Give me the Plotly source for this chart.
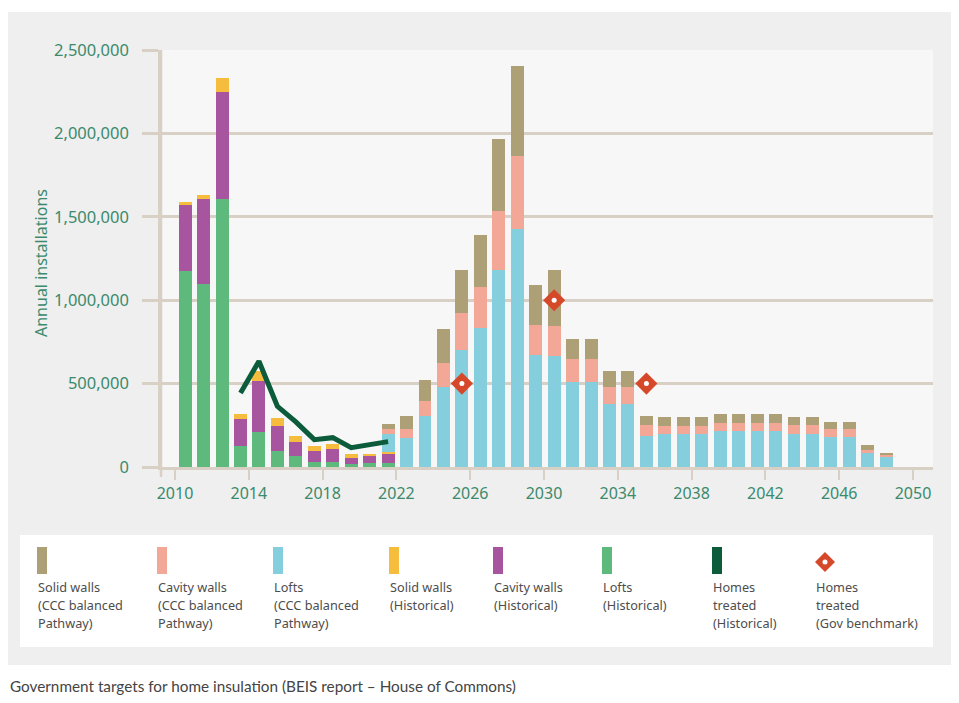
import plotly.graph_objects as go

# Historical installations (2010-2021)
hist_years = list(range(2010, 2022))
hist_lofts = [1176000, 1100000, 1606000, 124000, 208000, 96000, 68000, 32000, 32000, 20000, 24000, 24000]
hist_cavity = [394000, 504000, 640000, 162000, 308000, 150000, 80000, 64000, 78000, 36000, 44000, 52000]
hist_solid = [16000, 28000, 86000, 34000, 60000, 50000, 36000, 30000, 28000, 24000, 12000, 14000]

# CCC balanced pathway (2021-2048)
ccc_years = list(range(2021, 2049))
ccc_lofts = [106000, 176000, 306000, 480000, 704000, 834000, 1180000, 1424000, 674000, 668000,
             510000, 510000, 378000, 378000, 188000, 196000, 196000, 196000, 216000, 216000,
             216000, 216000, 198000, 198000, 178000, 178000, 82000, 62000]
ccc_cavity = [32000, 54000, 92000, 146000, 222000, 244000, 354000, 442000, 178000, 180000,
              138000, 138000, 102000, 102000, 64000, 52000, 52000, 52000, 50000, 50000,
              50000, 50000, 52000, 52000, 50000, 50000, 20000, 14000]
ccc_solid = [32000, 76000, 122000, 200000, 254000, 310000, 430000, 538000, 242000, 332000,
             120000, 120000, 94000, 94000, 56000, 54000, 54000, 54000, 54000, 54000,
             54000, 54000, 52000, 52000, 40000, 40000, 28000, 10000]

# Homes treated
treated_years = list(range(2013, 2022))
treated_hist = [444000, 634000, 364000, 270000, 164000, 176000, 116000, 134000, 152000]
bench_years = [2025, 2030, 2035]
bench_vals = [500000, 1000000, 500000]

tick_years = list(range(2010, 2051, 4))
y_ticks = [0, 500000, 1000000, 1500000, 2000000, 2500000]
y_ticktext = ["0", "500,000", "1,000,000", "1,500,000", "2,000,000", "2,500,000"]

legend_items = [
    (["Solid walls", "(CCC balanced", "Pathway)"], "#ad9f76"),
    (["Cavity walls", "(CCC balanced", "Pathway)"], "#f3a796"),
    (["Lofts", "(CCC balanced", "Pathway)"], "#84cedd"),
    (["Solid walls", "(Historical)"], "#f5bc3e"),
    (["Cavity walls", "(Historical)"], "#a8559f"),
    (["Lofts", "(Historical)"], "#5dba7c"),
    (["Homes", "treated", "(Historical)"], "#0c5b3b"),
    (["Homes", "treated", "(Gov benchmark)"], "#d6482a"),
]
legend_x = [37, 157, 273, 389, 493, 602, 712, 815]

C_SOLID_CCC, C_CAV_CCC, C_LOFT_CCC = "#ad9f76", "#f3a796", "#84cedd"
C_SOLID_H, C_CAV_H, C_LOFT_H = "#f5bc3e", "#a8559f", "#5dba7c"
C_LINE, C_BENCH = "#0c5b3b", "#d6482a"
GRID = "#d8d0c5"
GREEN_TXT = "#3b8a6c"

# page body adds an 8px margin, so the figure is drawn 8px smaller and
# every reference pixel coordinate is moved by that amount
OFF = 8
W, H = 959 - OFF, 703 - OFF
PL, PR, PT, PB = 161 - OFF, 933 - OFF, 50 - OFF, 467 - OFF
SHIFT = 0.55  # bars sit to the right of the year tick


def px(x):
    return (x - OFF - PL) / (PR - PL)


def py(y):
    return (PB - (y - OFF)) / (PB - PT)


fig = go.Figure()

bar_kw = dict(width=0.7, marker_line_width=0, showlegend=False)
fig.add_trace(go.Bar(x=hist_years, y=hist_lofts, marker_color=C_LOFT_H, name="Lofts (Historical)", **bar_kw))
fig.add_trace(go.Bar(x=hist_years, y=hist_cavity, marker_color=C_CAV_H, name="Cavity walls (Historical)", **bar_kw))
fig.add_trace(go.Bar(x=hist_years, y=hist_solid, marker_color=C_SOLID_H, name="Solid walls (Historical)", **bar_kw))
fig.add_trace(go.Bar(x=ccc_years, y=ccc_lofts, marker_color=C_LOFT_CCC, name="Lofts (CCC)", **bar_kw))
fig.add_trace(go.Bar(x=ccc_years, y=ccc_cavity, marker_color=C_CAV_CCC, name="Cavity walls (CCC)", **bar_kw))
fig.add_trace(go.Bar(x=ccc_years, y=ccc_solid, marker_color=C_SOLID_CCC, name="Solid walls (CCC)", **bar_kw))

fig.add_trace(go.Scatter(x=treated_years, y=treated_hist, mode="lines",
                         line=dict(color=C_LINE, width=5), showlegend=False,
                         name="Homes treated (Historical)"))
fig.add_trace(go.Scatter(x=bench_years, y=bench_vals, mode="markers",
                         marker=dict(symbol="diamond", size=17, color=C_BENCH, line_width=0),
                         showlegend=False, name="Homes treated (Gov benchmark)"))
fig.add_trace(go.Scatter(x=bench_years, y=bench_vals, mode="markers",
                         marker=dict(symbol="circle", size=5, color="white", line_width=0),
                         showlegend=False, hoverinfo="skip"))

shapes = [
    # grey card behind everything
    dict(type="rect", xref="paper", yref="paper", x0=px(OFF), x1=px(952), y0=py(665), y1=py(12),
         fillcolor="#efefef", line_width=0, layer="below"),
    # lighter plot area
    dict(type="rect", xref="paper", yref="paper", x0=0, x1=1, y0=0, y1=1,
         fillcolor="#f7f7f7", line_width=0, layer="below"),
    # y axis line extending below the baseline
    dict(type="line", xref="paper", yref="paper", x0=0, x1=0, y0=py(477), y1=1,
         line=dict(color=GRID, width=2.5)),
    # legend box
    dict(type="rect", xref="paper", yref="paper", x0=px(20), x1=px(933), y0=py(647), y1=py(535),
         fillcolor="white", line_width=0, layer="below"),
]

annotations = [
    dict(text="Annual installations", xref="paper", yref="paper", x=px(28), y=py(263),
         textangle=-90, showarrow=False, font=dict(family="Noto Sans", size=16, color=GREEN_TXT)),
    dict(text="Government targets for home insulation (BEIS report \u2013 House of Commons)",
         xref="paper", yref="paper", x=px(OFF), y=py(686), xanchor="left", yanchor="middle",
         showarrow=False, font=dict(family="Lato", size=15.3, color="#444444")),
]

for i, ((lines, color), lx) in enumerate(zip(legend_items, legend_x)):
    if i < len(legend_items) - 1:
        shapes.append(dict(type="rect", xref="paper", yref="paper", x0=px(lx), x1=px(lx + 10),
                           y0=py(574), y1=py(547), fillcolor=color, line_width=0))
    else:
        cx, cy, r = lx + 10, 562, 10
        path = "M {},{} L {},{} L {},{} L {},{} Z".format(
            px(cx - r), py(cy), px(cx), py(cy - r), px(cx + r), py(cy), px(cx), py(cy + r))
        shapes.append(dict(type="path", xref="paper", yref="paper", path=path,
                           fillcolor=color, line_width=0))
        shapes.append(dict(type="circle", xref="paper", yref="paper",
                           x0=px(cx - 2.5), x1=px(cx + 2.5), y0=py(cy + 2.5), y1=py(cy - 2.5),
                           fillcolor="white", line_width=0))
    for j, txt in enumerate(lines):
        annotations.append(dict(text=txt, xref="paper", yref="paper", x=px(lx - 1), y=py(587 + 18 * j),
                                xanchor="left", yanchor="middle", showarrow=False,
                                font=dict(family="Noto Sans", size=12.7, color="#4d4d4d")))

fig.update_layout(
    width=W, height=H,
    barmode="stack",
    paper_bgcolor="white",
    plot_bgcolor="rgba(0,0,0,0)",
    margin=dict(l=PL, r=W - PR, t=PT, b=H - PB, autoexpand=False),
    shapes=shapes,
    annotations=annotations,
    xaxis=dict(
        range=[2009.241 - SHIFT, 2051.084 - SHIFT],
        tickvals=[t - SHIFT for t in tick_years],
        ticktext=[str(t) for t in tick_years],
        ticks="outside", ticklen=10, tickwidth=2, tickcolor=GRID,
        showgrid=False, zeroline=False,
        showline=True, linecolor=GRID, linewidth=2.5,
        tickfont=dict(family="Noto Sans", size=16, color=GREEN_TXT),
    ),
    yaxis=dict(
        range=[0, 2500000],
        tickvals=y_ticks, ticktext=y_ticktext,
        ticks="outside", ticklen=16, tickwidth=2.5, tickcolor=GRID,
        showgrid=True, gridcolor=GRID, gridwidth=2.5,
        zeroline=False, showline=True, linecolor=GRID, linewidth=2.5,
        ticklabelstandoff=10,
        tickfont=dict(family="Noto Sans", size=16.5, color=GREEN_TXT),
    ),
    font=dict(family="Noto Sans"),
)

fig.write_html("out.html")
